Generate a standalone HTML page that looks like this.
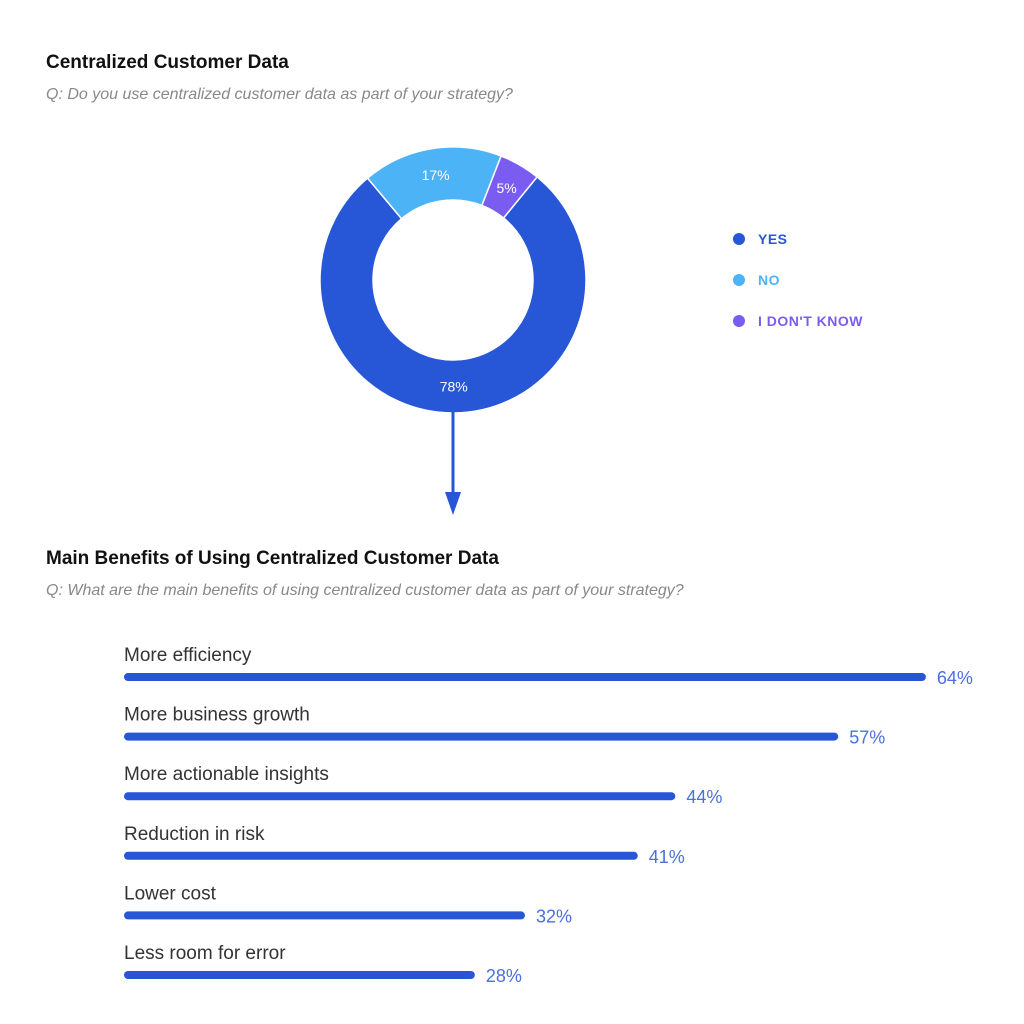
<!DOCTYPE html>
<html><head><meta charset="utf-8"><style>
body{margin:0;background:#fff;width:1024px;height:1024px;overflow:hidden;font-family:"Liberation Sans",sans-serif}
svg{display:block}
</style></head><body>
<svg width="1024" height="1024">
<text x="46" y="68" font-size="19" font-weight="bold" fill="#111">Centralized Customer Data</text>
<text x="46" y="99" font-size="16" font-style="italic" fill="#888">Q: Do you use centralized customer data as part of your strategy?</text>
<g id="donut"></g>
<g id="legend"></g>
<line x1="453" y1="412" x2="453" y2="494" stroke="#2757d6" stroke-width="3"/>
<polygon points="445,492 461,492 453,515" fill="#2757d6"/>
<text x="46" y="564" font-size="19" font-weight="bold" fill="#111">Main Benefits of Using Centralized Customer Data</text>
<text x="46" y="595" font-size="16" font-style="italic" fill="#888">Q: What are the main benefits of using centralized customer data as part of your strategy?</text>
<g id="bars"></g>
</svg>
<script>
const sliceLabels=["YES","NO","I DON'T KNOW"];
const sliceValues=[78,17,5];
const sliceColors=["#2757d6","#4db3f7","#7b5cf0"];
const barCategories=["More efficiency","More business growth","More actionable insights","Reduction in risk","Lower cost","Less room for error"];
const barValues=[64,57,44,41,32,28];
const NS="http://www.w3.org/2000/svg";
function mk(t,a,p){const e=document.createElementNS(NS,t);for(const k in a)e.setAttribute(k,a[k]);p.appendChild(e);return e;}
// donut
const cx=453,cy=280,R=133,r=80,start=39.2*Math.PI/180;
const total=sliceValues.reduce((a,b)=>a+b,0);
const dg=document.getElementById('donut');
let a0=start;
function pt(rad,a){return [cx+rad*Math.sin(a),cy-rad*Math.cos(a)];}
sliceValues.forEach((v,i)=>{
  const a1=a0+v/total*2*Math.PI;
  const large=(a1-a0)>Math.PI?1:0;
  const p1=pt(R,a0),p2=pt(R,a1),p3=pt(r,a1),p4=pt(r,a0);
  const path=mk('path',{d:`M${p1}A${R},${R} 0 ${large} 1 ${p2}L${p3}A${r},${r} 0 ${large} 0 ${p4}Z`,fill:sliceColors[i],stroke:'#fff','stroke-width':1.5},dg);
  
  
  const am=(a0+a1)/2,lp=pt((R+r)/2,am);
  const t=mk('text',{x:lp[0],y:lp[1]+5,'text-anchor':'middle','font-size':14,fill:'#fff'},dg);
  t.textContent=v+'%';
  
  
  a0=a1;
});
const lg=document.getElementById('legend');
sliceLabels.forEach((l,i)=>{
  const y=239+i*41;
  const c=mk('circle',{cx:739,cy:y,r:6,fill:sliceColors[i]},lg);
  
  
  const t=mk('text',{x:758,y:y+5,'font-size':14,'font-weight':'bold',fill:sliceColors[i],'letter-spacing':'0.5'},lg);
  t.textContent=l;
  
  
});
// bars
const bg=document.getElementById('bars');
const x0=124,scale=12.53;
barCategories.forEach((c,i)=>{
  const y=677+i*59.6;
  const w=barValues[i]*scale;
  const t=mk('text',{x:x0,y:y-16,'font-size':19,fill:'#333'},bg);
  t.textContent=c;
  
  
  const b=mk('rect',{x:x0,y:y-4,width:w,height:8,rx:4,fill:'#2757d6'},bg);
  
  
  const v=mk('text',{x:x0+w+11,y:y+7,'font-size':18,fill:'#4a6fe0'},bg);
  v.textContent=barValues[i]+'%';
  
  
});
</script>
</body></html>
